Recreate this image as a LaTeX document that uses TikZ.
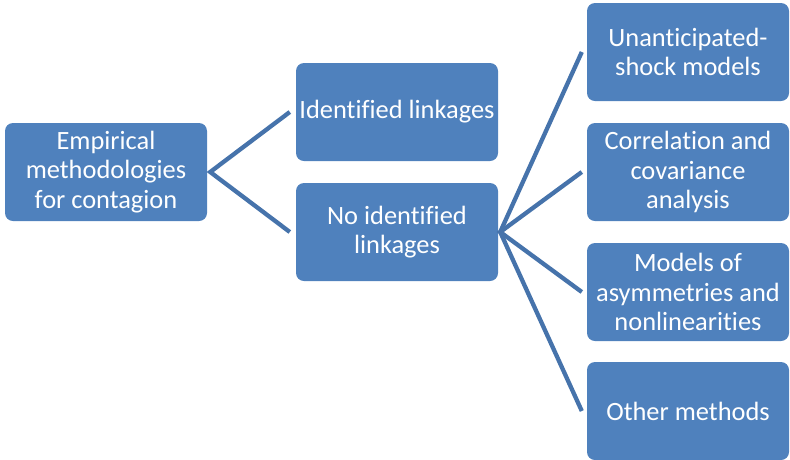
\documentclass[tikz,border=0pt]{standalone}
\usepackage{fontspec}
\setmainfont[Ligatures=NoCommon]{Carlito}
\usepackage{tikz}
\usetikzlibrary{calc}

\definecolor{boxblue}{HTML}{4F81BD}
\definecolor{lineblue}{HTML}{4673AB}

\begin{document}
\begin{tikzpicture}[
  x=1pt, y=-1pt,
  box/.style={fill=boxblue, rounded corners=8pt, minimum width=202pt, minimum height=98pt,
    inner sep=0pt, align=center, text=white, font=\fontsize{26.4}{29.5}\selectfont},
  link/.style={line width=4.3pt, lineblue, line join=miter}
]
\useasboundingbox (0,0) rectangle (790,459);

% Root
\node[box] (root) at (106, 172) {Empirical\\methodologies\\for contagion};

% Second level
\node[box] (linked) at (397, 112) {Identified linkages};
\node[box] (nolink) at (397, 232) {No identified\\linkages};

% Third level
\node[box] (shock) at (688, 52) {Unanticipated-\\shock models};
\node[box] (corr) at (688, 172) {Correlation and\\covariance\\analysis};
\node[box] (asym) at (688, 292) {Models of\\asymmetries and\\nonlinearities};
\node[box] (other) at (688, 411) {Other methods};

% Fan points
\coordinate (rootfan) at ($(root.east)+(3,0)$);
\coordinate (nofan) at ($(nolink.east)+(2,0)$);

% Connectors
\draw[link] ([xshift=-6pt]linked.west) -- (rootfan) -- ([xshift=-6pt]nolink.west);
\draw[link] ([xshift=-5pt]shock.west) -- (nofan) -- ([xshift=-5pt]other.west);
\draw[link] ([xshift=-5pt]corr.west) -- (nofan) -- ([xshift=-5pt]asym.west);

\end{tikzpicture}
\end{document}
